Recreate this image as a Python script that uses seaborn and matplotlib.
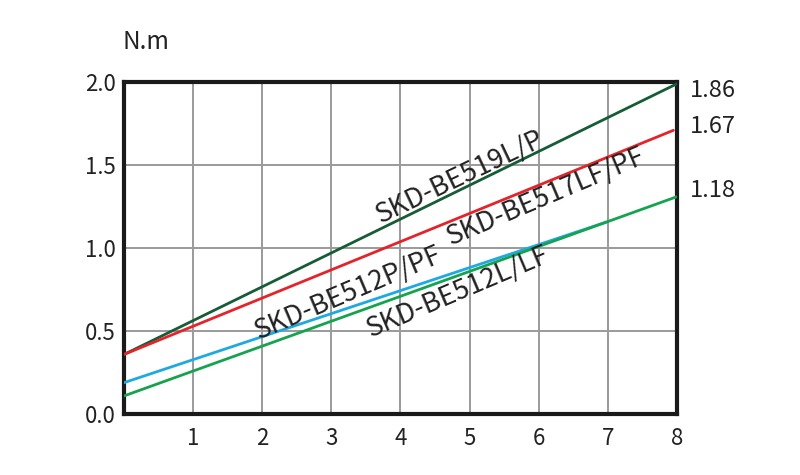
import numpy as np
import pandas as pd
import seaborn as sns
import matplotlib.pyplot as plt

sns.set_theme(style="white")
plt.rcParams['font.family'] = ['Noto Sans CJK SC', 'DejaVu Sans']

# line endpoints (speed vs torque)
models = ["SKD-BE519L/P", "SKD-BE517LF/PF", "SKD-BE512P/PF", "SKD-BE512L/LF"]
x_start = [0, 0, 0, 0]
x_end = [8, 7.95, 7.0, 8]
y_start = [0.36, 0.36, 0.19, 0.11]
y_end = [1.99, 1.71, 1.16, 1.31]
colors = ["#165c36", "#e3242b", "#1ea9e1", "#16a34f"]

right_labels = ["1.86", "1.67", "1.18"]
right_label_y = [1.95, 1.73, 1.35]

x_ticks = [1, 2, 3, 4, 5, 6, 7, 8]
y_ticks = [0.0, 0.5, 1.0, 1.5, 2.0]

rows = []
for m, x0, x1, y0, y1 in zip(models, x_start, x_end, y_start, y_end):
    rows.append({"model": m, "x": x0, "y": y0})
    rows.append({"model": m, "x": x1, "y": y1})
df = pd.DataFrame(rows)

fig = plt.figure(figsize=(8, 4.75), dpi=100)
ax = fig.add_axes([0.155, 0.128, 0.691, 0.699])

sns.lineplot(data=df, x="x", y="y", hue="model", hue_order=models,
             palette=colors, linewidth=2, legend=False, ax=ax, zorder=3)

ax.set_xlim(0, 8)
ax.set_ylim(0, 2.0)
ax.set_xticks(x_ticks)
ax.set_yticks(y_ticks)
ax.set_yticklabels([f"{v:.1f}" for v in y_ticks])
ax.set_xlabel("")
ax.set_ylabel("")
ax.grid(True, color="#9a9a9a", linewidth=1.4)
ax.tick_params(axis="both", labelsize=16, length=0, pad=6, colors="#222222")
ax.tick_params(axis="x", pad=9)
for s in ax.spines.values():
    s.set_color("#1a1a1a")
    s.set_linewidth(3)

# rotated model names along lines
label_pos = [(4.86, 1.43, 25.5), (6.11, 1.31, 23), (3.24, 0.73, 23), (4.83, 0.735, 23)]
for name, (lx, ly, rot) in zip(models, label_pos):
    ax.text(lx, ly, name, fontsize=19.5, rotation=rot, ha="center", va="center",
            color="#222222", rotation_mode="anchor", zorder=4)

for lab, ly in zip(right_labels, right_label_y):
    ax.text(8.19, ly, lab, fontsize=17, ha="left", va="center",
            color="#222222", clip_on=False)

ax.text(0.32, 2.24, "N.m", fontsize=17.5, ha="center", va="center",
        color="#222222", clip_on=False)

fig.savefig("out.png", dpi=100)
